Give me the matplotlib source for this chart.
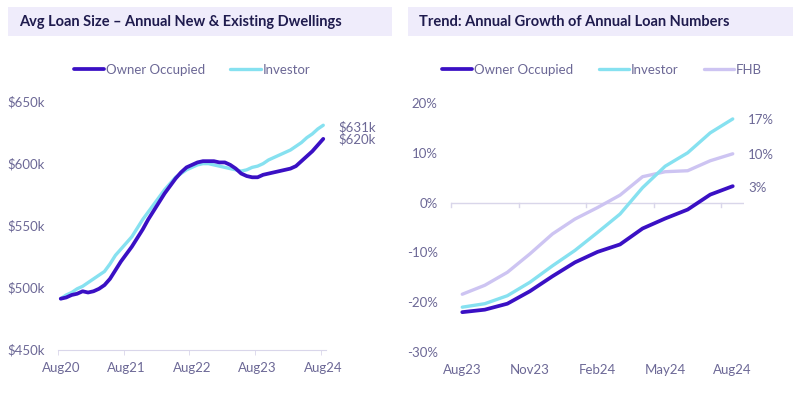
import numpy as np
import matplotlib.pyplot as plt
from matplotlib.patches import Rectangle

plt.rcParams['font.family'] = ['Lato', 'DejaVu Sans']

# ── data: left panel (monthly, Aug20 .. Aug24, $k) ───────────────────────────
loan_months = 49
loan_ticklabels = ["Aug20", "Aug21", "Aug22", "Aug23", "Aug24"]
owner_loan = [491, 492, 494, 495, 497, 496, 497, 499, 502, 507,
              514, 521, 527, 533, 540, 547, 555, 562, 569, 576,
              582, 588, 593, 597, 599, 601, 602, 602, 602, 601,
              601, 599, 596, 592, 590, 589, 589, 591, 592, 593,
              594, 595, 596, 598, 602, 606, 610, 615, 620]
investor_loan = [491, 494, 496, 499, 501, 504, 507, 510, 513, 519,
                 526, 531, 536, 541, 548, 555, 561, 567, 573, 579,
                 584, 589, 592, 595, 597, 599, 600, 600, 599, 598,
                 597, 596, 595, 594, 595, 597, 598, 600, 603, 605,
                 607, 609, 611, 614, 617, 621, 624, 628, 631]
loan_yticks = [450, 500, 550, 600, 650]

# ── data: right panel (monthly, Aug23 .. Aug24, % growth) ────────────────────
growth_ticklabels = ["Aug23", "Nov23", "Feb24", "May24", "Aug24"]
owner_growth = [-22.0, -21.5, -20.3, -17.8, -14.8, -12.0, -9.9,
                -8.4, -5.2, -3.2, -1.4, 1.6, 3.3]
investor_growth = [-21.0, -20.3, -18.7, -16.0, -12.7, -9.6, -6.0,
                   -2.3, 3.0, 7.3, 10.0, 14.0, 16.8]
fhb_growth = [-18.4, -16.6, -14.0, -10.3, -6.3, -3.3, -1.0,
              1.5, 5.2, 6.2, 6.4, 8.4, 9.8]
growth_yticks = [-30, -20, -10, 0, 10, 20]

# ── styling ──────────────────────────────────────────────────────────────────
c_owner = "#3A10C4"
c_inv = "#86E1F0"
c_fhb = "#CDC4F2"
c_text = "#6C6896"
c_title = "#1F1B4E"
c_box = "#EFECFB"
c_axis = "#D9D6EA"

W, H = 800, 397
fig = plt.figure(figsize=(8, 3.97), dpi=100)


def fx(px):
    return px / W


def fy(py):
    return 1 - py / H


# title boxes
for x0, x1, title in [(8, 392, "Avg Loan Size \u2013 Annual New & Existing Dwellings"),
                      (408, 793, "Trend: Annual Growth of Annual Loan Numbers")]:
    fig.add_artist(Rectangle((fx(x0), fy(36)), fx(x1 - x0), (36 - 7) / H,
                             transform=fig.transFigure, facecolor=c_box,
                             edgecolor="none", zorder=0))
    fig.text(fx(x0 + 11), fy(22), title, fontsize=10.5, fontweight="bold",
             color=c_title, va="center", ha="left")


def style_axes(ax):
    for s in ["top", "right", "left"]:
        ax.spines[s].set_visible(False)
    ax.tick_params(axis="y", length=0, pad=9.5, labelcolor=c_text, labelsize=9.5)
    ax.tick_params(axis="x", which="major", length=0, pad=9,
                   labelcolor=c_text, labelsize=9.5)
    ax.tick_params(axis="x", which="minor", length=3.5, color=c_axis)


leg_kw = dict(loc="center", bbox_transform=fig.transFigure, frameon=False,
              fontsize=9.5, labelcolor=c_text, handlelength=2.3,
              handletextpad=0.15, columnspacing=1.9, borderaxespad=0)

# ── left panel ───────────────────────────────────────────────────────────────
ax1 = fig.add_axes([fx(58), fy(349.5), fx(326 - 58), (349.5 - 101.7) / H])
x1 = np.arange(loan_months)
ax1.plot(x1, owner_loan, color=c_owner, lw=2.7, label="Owner Occupied",
         solid_capstyle="round", zorder=3)
ax1.plot(x1, investor_loan, color=c_inv, lw=2.4, label="Investor",
         solid_capstyle="round", zorder=2)
ax1.set_xlim(-0.5, loan_months - 0.5)
ax1.set_ylim(450, 650)
ax1.set_yticks(loan_yticks)
ax1.set_yticklabels([f"${v}k" for v in loan_yticks])
ax1.set_xticks(np.arange(0, loan_months, 12))
ax1.set_xticklabels(loan_ticklabels)
ax1.set_xticks(np.arange(-0.5, loan_months, 12), minor=True)
style_axes(ax1)
ax1.spines["bottom"].set_color(c_axis)
ax1.annotate(f"${investor_loan[-1]}k", (x1[-1], investor_loan[-1]),
             xytext=(11, -1.5), textcoords="offset points", va="center",
             color=c_text, fontsize=9.5, annotation_clip=False)
ax1.annotate(f"${owner_loan[-1]}k", (x1[-1], owner_loan[-1]),
             xytext=(11, 0), textcoords="offset points", va="center",
             color=c_text, fontsize=9.5, annotation_clip=False)
ax1.legend(bbox_to_anchor=(fx(192), fy(70)), ncol=2, **leg_kw)

# ── right panel ──────────────────────────────────────────────────────────────
ax2 = fig.add_axes([fx(451), fy(352), fx(744 - 451), (352 - 103) / H])
x2 = np.arange(len(owner_growth))
ax2.plot(x2, fhb_growth, color=c_fhb, lw=2.4, label="FHB",
         solid_capstyle="round", zorder=2)
ax2.plot(x2, investor_growth, color=c_inv, lw=2.4, label="Investor",
         solid_capstyle="round", zorder=3)
ax2.plot(x2, owner_growth, color=c_owner, lw=2.7, label="Owner Occupied",
         solid_capstyle="round", zorder=4)
ax2.set_xlim(-0.5, len(x2) - 0.5)
ax2.set_ylim(-30, 20)
ax2.set_yticks(growth_yticks)
ax2.set_yticklabels([f"{v}%" for v in growth_yticks])
ax2.set_xticks(np.arange(0, len(x2), 3))
ax2.set_xticklabels(growth_ticklabels)
style_axes(ax2)
ax2.spines["bottom"].set_visible(False)
ax2.axhline(0, color=c_axis, lw=1, zorder=1)
for t in np.arange(-0.5, len(x2) - 1, 3):
    ax2.plot([t, t], [0, -0.8], color=c_axis, lw=1, zorder=1, clip_on=False)
for vals in [investor_growth, fhb_growth, owner_growth]:
    ax2.annotate(f"{vals[-1]:.0f}%", (x2[-1], vals[-1]),
                 xytext=(11, -1), textcoords="offset points", va="center",
                 color=c_text, fontsize=9.5, annotation_clip=False)
h, l = ax2.get_legend_handles_labels()
ax2.legend(h[::-1], l[::-1], bbox_to_anchor=(fx(602), fy(70)), ncol=3,
           **leg_kw)

fig.savefig("out.png", dpi=100, facecolor="white")
